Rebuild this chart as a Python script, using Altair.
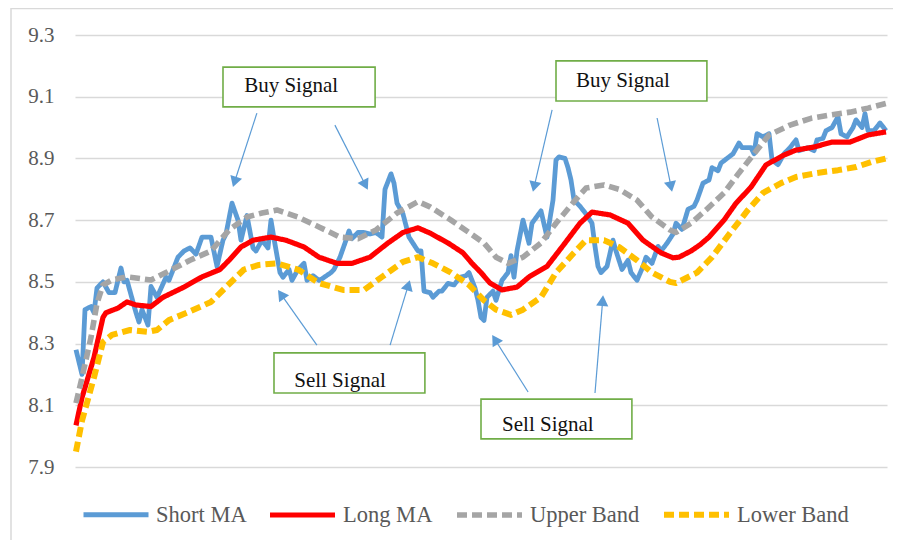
import math
import altair as alt
import pandas as pd

# ---------------- data ----------------
short_days = [0, 2, 3, 5, 6, 7, 9, 11, 13, 15, 16, 17, 20, 21, 22, 24, 25, 27, 30, 31, 34, 36, 38, 40,
              42, 44, 45, 47, 49, 50, 52, 54, 55, 57, 59, 60, 62, 64, 65, 66, 68, 69, 71, 72, 74, 76,
              77, 79, 81, 82, 85, 86, 88, 90, 91, 92, 94, 96, 98, 100, 102, 103, 105, 106, 107, 109,
              111, 114, 115, 116, 118, 119, 121, 122, 124, 126, 128, 130, 131, 133, 134, 135, 136,
              137, 139, 140, 142, 144, 145, 146, 147, 149, 151, 152, 155, 157, 159, 160, 161, 163,
              164, 165, 166, 168, 170, 172, 173, 174, 175, 177, 179, 180, 182, 184, 185, 187, 189,
              190, 192, 194, 195, 197, 199, 200, 202, 204, 206, 207, 209, 211, 212, 214, 215, 217,
              219, 221, 222, 225, 226, 227, 229, 231, 232, 234, 236, 238, 240, 241, 244, 246, 247,
              249, 250, 252, 254, 255, 257, 259, 260, 262, 263, 264, 266, 268, 270]
short_vals = [8.28, 8.20, 8.41, 8.42, 8.40, 8.48, 8.50, 8.465, 8.465, 8.545, 8.50, 8.505, 8.40, 8.37,
              8.41, 8.36, 8.485, 8.45, 8.515, 8.505, 8.58, 8.60, 8.61, 8.59, 8.645, 8.645, 8.645,
              8.55, 8.635, 8.655, 8.755, 8.70, 8.635, 8.715, 8.61, 8.60, 8.635, 8.61, 8.70, 8.64,
              8.53, 8.515, 8.54, 8.505, 8.54, 8.56, 8.505, 8.52, 8.505, 8.51, 8.53, 8.54, 8.58,
              8.635, 8.665, 8.64, 8.66, 8.66, 8.655, 8.66, 8.645, 8.80, 8.85, 8.82, 8.755, 8.72,
              8.645, 8.60, 8.60, 8.47, 8.465, 8.45, 8.47, 8.47, 8.495, 8.49, 8.515, 8.52, 8.53,
              8.48, 8.44, 8.385, 8.375, 8.45, 8.47, 8.44, 8.505, 8.53, 8.585, 8.515, 8.60, 8.70,
              8.625, 8.69, 8.73, 8.645, 8.765, 8.895, 8.905, 8.90, 8.87, 8.83, 8.765, 8.745, 8.72,
              8.69, 8.615, 8.55, 8.53, 8.55, 8.635, 8.60, 8.54, 8.57, 8.53, 8.505, 8.55, 8.58,
              8.56, 8.615, 8.60, 8.625, 8.655, 8.69, 8.67, 8.735, 8.745, 8.765, 8.82, 8.83, 8.87,
              8.86, 8.885, 8.90, 8.915, 8.95, 8.935, 8.935, 8.915, 8.98, 8.97, 8.98, 8.895, 8.88,
              8.915, 8.935, 8.96, 8.925, 8.935, 8.925, 8.96, 8.965, 8.99, 9.00, 9.035, 8.98, 8.97,
              9.00, 9.025, 9.00, 9.045, 8.99, 8.99, 9.015, 8.99]

long_days = [0, 2, 6, 9, 10, 14, 17, 20, 25, 29, 36, 42, 48, 51, 55, 59, 65, 70, 76, 81, 87, 92, 98,
             104, 109, 114, 118, 124, 129, 132, 135, 138, 142, 147, 151, 157, 162, 168, 172, 178,
             184, 189, 195, 199, 201, 205, 208, 211, 216, 220, 225, 230, 236, 240, 246, 252, 258,
             264, 270]
long_vals = [8.035, 8.125, 8.255, 8.385, 8.40, 8.415, 8.435, 8.425, 8.42, 8.45, 8.483, 8.516, 8.54,
             8.57, 8.613, 8.635, 8.645, 8.635, 8.613, 8.58, 8.56, 8.56, 8.58, 8.626, 8.66, 8.675,
             8.658, 8.626, 8.594, 8.56, 8.53, 8.496, 8.474, 8.483, 8.516, 8.55, 8.613, 8.69, 8.726,
             8.717, 8.69, 8.635, 8.594, 8.578, 8.58, 8.60, 8.62, 8.645, 8.70, 8.755, 8.807, 8.879,
             8.911, 8.927, 8.937, 8.953, 8.953, 8.976, 8.986]

upper_days = [0, 2, 5, 7, 9, 12, 17, 25, 30, 38, 45, 51, 57, 62, 67, 74, 81, 88, 94, 100, 107, 114,
              118, 125, 131, 136, 140, 144, 149, 155, 160, 166, 170, 176, 181, 187, 192, 198, 200,
              205, 210, 216, 221, 227, 231, 238, 245, 251, 258, 264, 270]
upper_vals = [8.107, 8.19, 8.32, 8.43, 8.49, 8.506, 8.516, 8.506, 8.53, 8.57, 8.60, 8.668, 8.71,
              8.723, 8.733, 8.71, 8.678, 8.645, 8.64, 8.668, 8.723, 8.76, 8.743, 8.70, 8.66, 8.626,
              8.58, 8.56, 8.58, 8.626, 8.69, 8.76, 8.804, 8.814, 8.80, 8.765, 8.71, 8.668, 8.66,
              8.69, 8.733, 8.788, 8.853, 8.927, 8.976, 9.008, 9.03, 9.04, 9.05, 9.063, 9.078]

lower_days = [0, 2, 6, 9, 12, 18, 24, 27, 31, 37, 45, 50, 56, 61, 67, 74, 81, 89, 96, 102, 109, 114,
              119, 125, 131, 136, 140, 145, 149, 155, 160, 166, 170, 176, 181, 187, 192, 198, 200,
              207, 212, 218, 224, 229, 235, 240, 247, 254, 260, 265, 270]
lower_vals = [7.95, 8.05, 8.19, 8.305, 8.328, 8.344, 8.338, 8.344, 8.376, 8.40, 8.435, 8.483, 8.54,
              8.555, 8.56, 8.54, 8.496, 8.474, 8.474, 8.516, 8.565, 8.58, 8.56, 8.53, 8.49, 8.44,
              8.41, 8.393, 8.41, 8.45, 8.53, 8.594, 8.635, 8.635, 8.613, 8.57, 8.53, 8.50, 8.496,
              8.53, 8.58, 8.658, 8.733, 8.788, 8.82, 8.84, 8.853, 8.862, 8.872, 8.888, 8.90]

series_names = ["Short MA", "Long MA", "Upper Band", "Lower Band"]
y_ticks = [7.9, 8.1, 8.3, 8.5, 8.7, 8.9, 9.1, 9.3]

# annotation boxes: label, text x/y, box x/x2/y/y2 (data units)
box_labels = ["Buy Signal", "Buy Signal", "Sell Signal", "Sell Signal"]
box_text_x = [71.7, 182.3, 88.0, 157.3]
box_text_y = [9.134, 9.150, 8.180, 8.035]
box_x1 = [49.0, 160.0, 66.0, 135.0]
box_x2 = [99.7, 210.3, 116.3, 185.3]
box_y1 = [9.196, 9.216, 8.270, 8.120]
box_y2 = [9.067, 9.086, 8.140, 7.991]

# arrows: start and tip (data units)
arrow_sx = [60.3, 86.3, 158.7, 193.7, 80.3, 104.7, 150.7, 173.0]
arrow_sy = [9.047, 9.008, 9.057, 9.031, 8.295, 8.295, 8.143, 8.140]
arrow_tx = [52.3, 97.3, 152.3, 198.7, 67.3, 111.3, 138.7, 175.7]
arrow_ty = [8.807, 8.798, 8.791, 8.791, 8.474, 8.506, 8.328, 8.457]

# ---------------- styles ----------------
colors = ["#5b9bd5", "#ff0000", "#a5a5a5", "#ffc000"]
dashes = [[1, 0], [1, 0], [10, 5], [10, 5]]
widths = [4.8, 6.0, 2.6, 2.6]
W, H = 812, 432
X_DOM = [-0.33, 270.33]
Y_DOM = [7.9, 9.3]
px_x = W / (X_DOM[1] - X_DOM[0])
px_y = H / (Y_DOM[1] - Y_DOM[0])

rows = []
for name, days, vals in zip(series_names,
                            [short_days, long_days, upper_days, lower_days],
                            [short_vals, long_vals, upper_vals, lower_vals]):
    for d, v in zip(days, vals):
        rows.append({"series": name, "day": d, "value": v})
df = pd.DataFrame(rows)

xs = alt.Scale(domain=X_DOM, nice=False, zero=False)
ys = alt.Scale(domain=Y_DOM, nice=False, zero=False)

color = alt.Color("series:N", scale=alt.Scale(domain=series_names, range=colors), title=None)
dash = alt.StrokeDash("series:N", scale=alt.Scale(domain=series_names, range=dashes), title=None)
sw = alt.StrokeWidth("series:N", scale=alt.Scale(domain=series_names, range=widths), title=None)

line_layers = []
for i, name in enumerate(series_names):
    enc = dict(
        x=alt.X("day:Q", scale=xs, axis=None),
        y=alt.Y("value:Q", scale=ys,
                axis=alt.Axis(values=y_ticks, format=".1f", title=None, ticks=False,
                              domain=False, grid=True, labelPadding=21)),
        color=color, strokeDash=dash, strokeWidth=sw,
    )
    line_layers.append(
        alt.Chart(df).transform_filter(alt.datum.series == name)
        .mark_line(strokeJoin="round", strokeCap="butt").encode(**enc)
    )

# annotations
box_df = pd.DataFrame({"label": box_labels, "tx": box_text_x, "ty": box_text_y,
                       "x1": box_x1, "x2": box_x2, "y1": box_y1, "y2": box_y2})
boxes = alt.Chart(box_df).mark_rect(fill="white", stroke="#70ad47", strokeWidth=1.6).encode(
    x=alt.X("x1:Q", scale=xs), x2="x2:Q", y=alt.Y("y1:Q", scale=ys), y2="y2:Q")
box_text = alt.Chart(box_df).mark_text(font="Liberation Serif", fontSize=21, color="#111111",
                                       align="center", baseline="middle").encode(
    x=alt.X("tx:Q", scale=xs), y=alt.Y("ty:Q", scale=ys), text="label:N")

arows = []
for sx, sy, tx, ty in zip(arrow_sx, arrow_sy, arrow_tx, arrow_ty):
    dxp = (tx - sx) * px_x
    dyp = -(ty - sy) * px_y
    L = math.hypot(dxp, dyp)
    ux, uy = dxp / L, dyp / L
    ang = math.degrees(math.atan2(ux, -uy)) % 360
    back_head = 5.5
    back_line = 8.0
    arows.append({
        "sx": sx, "sy": sy,
        "ex": tx - back_line * ux / px_x, "ey": ty + back_line * uy / px_y,
        "hx": tx - back_head * ux / px_x, "hy": ty + back_head * uy / px_y,
        "ang": ang,
    })
arrow_df = pd.DataFrame(arows)
arrow_lines = alt.Chart(arrow_df).mark_rule(color="#5b9bd5", strokeWidth=1.2).encode(
    x=alt.X("sx:Q", scale=xs), x2="ex:Q", y=alt.Y("sy:Q", scale=ys), y2="ey:Q")
arrow_heads = alt.Chart(arrow_df).mark_point(shape="triangle-up", filled=True, size=150,
                                             color="#5b9bd5", opacity=1).encode(
    x=alt.X("hx:Q", scale=xs), y=alt.Y("hy:Q", scale=ys), angle=alt.Angle("ang:Q", scale=None))

frame = alt.Chart(pd.DataFrame({"a": [0]})).mark_rect(
    fillOpacity=0, stroke="#d9d9d9", strokeWidth=1.5).encode(
    x=alt.value(-64), x2=alt.value(840), y=alt.value(-26.5), y2=alt.value(540))

chart = alt.layer(frame, *line_layers, arrow_lines, arrow_heads, boxes, box_text).properties(
    width=W, height=H,
    autosize=alt.AutoSizeParams(type="none"),
    padding={"left": 67, "top": 27, "right": 6, "bottom": 73},
).configure_view(stroke=None).configure_axis(
    gridColor="#d9d9d9", gridWidth=1.5,
    labelFont="Liberation Serif", labelFontSize=21, labelColor="#595959",
).configure_legend(
    orient="none", legendX=6, legendY=444, direction="horizontal",
    symbolType="stroke", symbolSize=4225, labelFont="Liberation Serif",
    labelFontSize=22.5, labelColor="#595959", labelOffset=5, columnPadding=12,
    padding=0, labelLimit=300,
)

chart.save("out.html", embed_options={"renderer": "svg", "actions": False})
